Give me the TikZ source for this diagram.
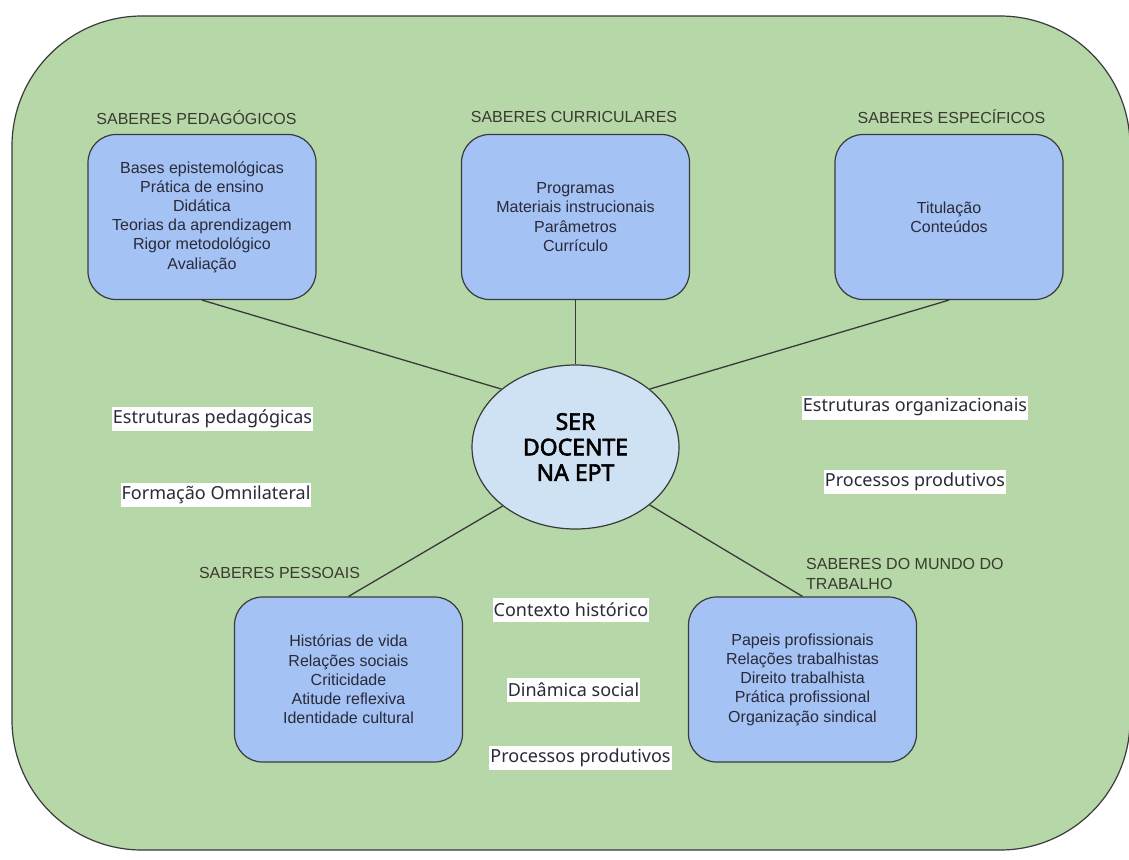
\documentclass[tikz,border=0pt]{standalone}
\usepackage{fontspec}
\setmainfont{Liberation Sans}
\newfontfamily\lblfont{Noto Sans}
\newfontfamily\ctrfont{Noto Sans}[FakeBold=2.5]
\usetikzlibrary{shapes.geometric}
\definecolor{bgGreen}{HTML}{B6D7A8}
\definecolor{boxBlue}{HTML}{A4C2F4}
\definecolor{ellBlue}{HTML}{CFE2F3}
\definecolor{lineGray}{HTML}{3A3A3A}
\definecolor{txtDark}{HTML}{2A2A38}
\definecolor{hdrDark}{HTML}{3A3A2E}
\tikzset{
  kbox/.style={draw=lineGray, line width=1.2pt, fill=boxBlue, rounded corners=28pt,
    minimum width=228pt, minimum height=165pt, align=center, text=txtDark,
    font=\fontsize{16}{19.2}\selectfont, inner sep=0pt},
  hdr/.style={text=hdrDark, font=\fontsize{16}{19.2}\selectfont, inner sep=0pt},
  wlbl/.style={fill=white, text=txtDark, font=\lblfont\fontsize{18}{20}\selectfont,
    inner xsep=1pt, inner ysep=0pt, minimum height=24pt},
  conn/.style={draw=lineGray, line width=1.3pt},
  center/.style={ellipse, draw=lineGray, line width=1.2pt, fill=ellBlue,
    minimum width=207pt, minimum height=164pt, inner sep=0pt, align=center,
    font=\ctrfont\fontsize{23}{25.5}\selectfont, text=black}
}
\begin{document}
\begin{tikzpicture}[x=1pt,y=-1pt]
\useasboundingbox (0,0) rectangle (1129,859);
\fill[white] (0,0) rectangle (1129,859);
\draw[lineGray, line width=1.2pt, fill=bgGreen, rounded corners=130pt] (12,16) rectangle (1130,850);

% boxes
\node[kbox] (ped) at (202,217) {Bases epistemológicas\\Prática de ensino\\Didática\\Teorias da aprendizagem\\Rigor metodológico\\Avaliação};
\node[kbox] (cur) at (575.5,217) {Programas\\Materiais instrucionais\\Parâmetros\\Currículo};
\node[kbox] (esp) at (949,217) {Titulação\\Conteúdos};
\node[kbox] (pes) at (348.5,679.5) {Histórias de vida\\Relações sociais\\Criticidade\\Atitude reflexiva\\Identidade cultural};
\node[kbox] (mun) at (802.5,679.5) {Papeis profissionais\\Relações trabalhistas\\Direito trabalhista\\Prática profissional\\Organização sindical};

% headers
\node[hdr] (hped) at (196.5,117.5) {SABERES PEDAGÓGICOS};
\node[hdr] (hcur) at (574,117) {SABERES CURRICULARES};
\node[hdr] (hesp) at (951.5,117) {SABERES ESPECÍFICOS};
\node[hdr] (hpes) at (279.5,573) {SABERES PESSOAIS};
\node[hdr, anchor=west, align=left] (hmun) at (806,574) {SABERES DO MUNDO DO\\TRABALHO};

% center
\node[center] (ell) at (575.5,447) {SER\\DOCENTE\\NA EPT};

% connectors
\draw[conn] (ped.south) -- (ell.142);
\draw[conn] (cur.south) -- (ell.north);
\draw[conn] (esp.south) -- (ell.38);
\draw[conn] (pes.north) -- (ell.219);
\draw[conn] (mun.north) -- (ell.322);

% white labels
\node[wlbl] (l1) at (212.5,419) {Estruturas pedagógicas};
\node[wlbl] (l2) at (216,495) {Formação Omnilateral};
\node[wlbl] (l3) at (915,407.5) {Estruturas organizacionais};
\node[wlbl] (l4) at (915,481.5) {Processos produtivos};
\node[wlbl] (l5) at (571,609.5) {Contexto histórico};
\node[wlbl] (l6) at (573.5,690) {Dinâmica social};
\node[wlbl] (l7) at (580.5,758) {Processos produtivos};
\end{tikzpicture}
\end{document}
